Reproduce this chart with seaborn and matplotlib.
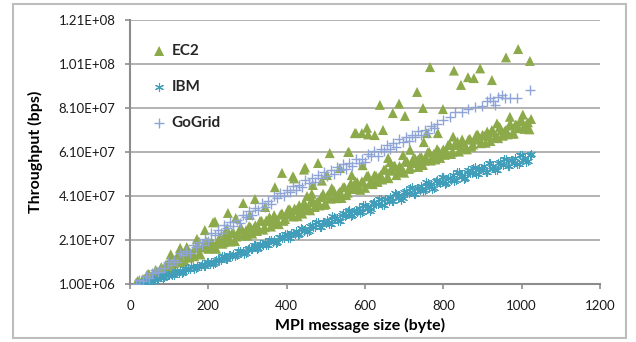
import numpy as np
import pandas as pd
import matplotlib
matplotlib.use("Agg")
import matplotlib.pyplot as plt
from matplotlib.patches import Rectangle
from matplotlib.ticker import FuncFormatter
import seaborn as sns

# ---------------- data (throughput in units of 1e6 bps) ----------------
ibm_x = list(range(24, 1025, 8))
ibm_y = [1.2, 1.4, 2.3, 2.5, 2.4, 3.7, 3.5, 4.6, 4.0, 5.0,
         5.7, 5.3, 6.9, 6.8, 6.3, 7.9, 7.6, 8.9, 8.1, 9.3,
         9.9, 9.3, 11.0, 10.9, 10.4, 12.5, 12.0, 13.6, 12.5, 14.1,
         14.8, 14.0, 15.8, 15.9, 15.1, 17.2, 16.9, 18.6, 17.3, 19.0,
         19.9, 18.7, 21.0, 20.9, 19.9, 22.3, 21.9, 23.9, 22.0, 24.1,
         25.0, 23.6, 26.2, 25.9, 25.0, 27.8, 27.1, 29.2, 27.1, 29.3,
         30.2, 28.5, 31.5, 31.2, 29.8, 33.1, 32.2, 34.6, 32.3, 34.5,
         35.4, 33.6, 36.9, 36.2, 35.0, 38.3, 37.3, 39.8, 37.0, 39.6,
         40.7, 38.9, 42.1, 41.4, 40.0, 43.4, 42.3, 44.9, 42.1, 44.7,
         45.7, 43.7, 47.1, 46.3, 44.8, 48.3, 47.1, 49.8, 46.8, 49.2,
         50.4, 48.1, 51.8, 50.7, 49.0, 52.6, 51.3, 54.0, 50.8, 53.5,
         54.7, 52.0, 55.8, 54.8, 53.0, 56.5, 55.1, 57.9, 54.6, 57.2,
         58.3, 55.6, 59.5, 58.3, 56.8, 60.2]
ibm_x2 = list(range(28, 1021, 8))
ibm_y2 = [1.1, 2.3, 2.1, 1.9, 3.4, 3.5, 4.5, 3.8, 5.0, 4.9,
          5.1, 6.8, 6.2, 5.9, 7.7, 7.6, 9.0, 7.8, 9.3, 9.0,
          9.0, 11.1, 10.3, 10.0, 12.1, 12.0, 13.6, 12.2, 14.0, 13.6,
          13.7, 16.1, 15.3, 14.8, 17.1, 17.0, 18.8, 17.1, 19.0, 18.6,
          18.6, 21.2, 20.3, 19.7, 22.2, 22.0, 23.9, 22.0, 24.0, 23.6,
          23.5, 26.4, 25.2, 24.6, 27.4, 27.1, 29.2, 27.0, 29.2, 28.6,
          28.5, 31.7, 30.4, 29.5, 32.4, 32.1, 34.3, 31.9, 34.3, 33.7,
          33.4, 36.9, 35.4, 34.3, 37.8, 37.3, 39.7, 36.8, 39.6, 38.8,
          38.6, 42.2, 40.6, 39.4, 42.9, 42.4, 44.8, 41.8, 44.7, 43.8,
          43.4, 47.2, 45.4, 44.2, 47.8, 47.2, 49.7, 46.6, 49.4, 48.4,
          47.9, 51.7, 49.9, 48.6, 52.1, 51.5, 53.9, 50.8, 53.6, 52.6,
          52.0, 55.8, 53.9, 52.6, 56.0, 55.4, 57.8, 54.5, 57.3, 56.2,
          55.6, 59.5, 57.5, 56.3, 59.6]

ec2_x = list(range(16, 1025, 8))
ec2_y = [1.7, 1.5, 3.1, 2.6, 5.6, 4.6, 6.8, 5.7, 8.7, 8.1,
         8.1, 11.4, 10.4, 13.3, 10.8, 13.6, 15.6, 13.0, 15.3, 17.4,
         14.7, 17.6, 19.5, 17.0, 20.1, 17.4, 20.0, 22.5, 20.0, 22.5,
         20.3, 24.4, 22.6, 26.0, 23.0, 25.4, 27.3, 23.9, 27.7, 26.4,
         29.7, 26.8, 29.6, 27.1, 32.3, 30.0, 32.5, 29.7, 32.6, 34.9,
         31.7, 34.7, 36.8, 33.0, 36.8, 35.5, 39.4, 36.0, 38.5, 40.5,
         37.0, 41.2, 39.8, 43.5, 40.0, 43.0, 45.0, 41.4, 45.1, 44.2,
         47.6, 44.6, 47.7, 44.7, 50.3, 47.6, 50.4, 47.4, 50.5, 52.9,
         49.2, 52.5, 54.5, 50.5, 54.6, 52.8, 57.1, 53.3, 56.0, 58.0,
         54.2, 58.7, 57.1, 60.8, 57.1, 60.2, 62.3, 58.3, 62.2, 61.2,
         64.5, 61.1, 64.4, 61.2, 66.7, 64.0, 66.6, 63.4, 66.6, 68.9,
         65.0, 68.4, 70.3, 66.0, 70.1, 68.1, 72.4, 68.4, 71.1, 73.0,
         69.3, 73.4, 71.8, 75.3, 71.5, 74.5, 76.0]
ec2_x2 = list(range(20, 1021, 8))
ec2_y2 = [2.5, 1.3, 3.4, 5.3, 4.3, 4.5, 6.9, 7.2, 7.1, 9.9,
          11.3, 8.0, 11.5, 14.5, 11.6, 11.3, 15.1, 14.8, 13.6, 18.2,
          14.4, 18.6, 20.2, 17.4, 19.2, 17.0, 21.9, 19.3, 23.7, 22.2,
          24.0, 20.5, 23.7, 26.5, 23.4, 23.0, 26.8, 26.3, 25.1, 29.7,
          25.7, 29.9, 31.4, 28.6, 30.4, 28.2, 33.1, 30.5, 34.9, 33.4,
          35.3, 31.8, 35.1, 37.9, 34.8, 34.5, 38.3, 37.9, 36.7, 41.3,
          37.4, 41.6, 43.2, 40.4, 42.2, 40.1, 45.0, 42.5, 46.9, 45.4,
          47.3, 43.8, 47.1, 49.9, 46.8, 46.4, 50.2, 49.7, 48.5, 53.1,
          49.1, 53.3, 54.8, 52.0, 53.8, 51.6, 56.5, 53.9, 58.3, 56.8,
          58.6, 55.1, 58.3, 61.1, 58.0, 57.6, 61.4, 60.9, 59.7, 64.2,
          60.1, 64.2, 65.7, 62.8, 64.5, 62.2, 67.0, 64.4, 68.7, 67.1,
          68.8, 65.2, 68.3, 71.0, 67.7, 67.3, 70.9, 70.4, 69.0, 73.4,
          69.4, 73.4, 74.9, 71.9, 73.6, 71.3]
ec2_x3 = [104, 128, 145, 171, 191, 212, 217, 242, 247, 250,
          270, 289, 306, 319, 345, 370, 388, 416, 419, 444,
          447, 452, 464, 467, 480, 490, 493, 503, 510, 515,
          536, 557, 559, 566, 574, 577, 592, 594, 605, 608,
          625, 631, 638, 646, 659, 664, 671, 687, 697, 702,
          715, 733, 735, 748, 750, 758, 766, 786, 799, 825,
          827, 845, 863, 878, 894, 924, 937, 960, 970, 991,
          1003, 1021]
ec2_y3 = [14.5, 17.4, 17.8, 21.5, 25.5, 29.0, 29.4, 22.0, 26.0, 33.3,
          31.0, 37.8, 32.4, 39.6, 36.0, 45.0, 51.5, 50.0, 49.0, 53.0,
          54.0, 41.0, 42.0, 46.0, 56.0, 48.0, 42.0, 50.5, 60.5, 44.6,
          53.7, 61.0, 61.0, 50.5, 69.6, 69.6, 69.6, 55.0, 72.0, 69.0,
          68.7, 48.0, 82.4, 71.0, 58.3, 56.4, 78.7, 83.0, 59.6, 77.4,
          62.0, 88.3, 57.4, 81.0, 65.5, 69.6, 99.6, 69.6, 80.5, 68.0,
          98.0, 91.5, 95.0, 94.6, 99.0, 93.7, 74.0, 104.0, 77.0, 107.8,
          78.0, 102.4]

gog_x = list(range(16, 785, 8)) + [799, 816, 830, 847, 864, 881, 898, 911, 919,
                                   927, 932, 940, 949, 957, 970, 988, 1021]
gog_y = [1.0, 2.8, 2.3, 4.8, 3.7, 5.9, 7.5, 6.3, 8.5, 8.4,
         10.8, 9.5, 11.8, 11.0, 14.9, 14.0, 16.2, 15.0, 18.6, 17.6,
         20.1, 18.8, 21.6, 20.5, 24.2, 23.3, 25.6, 24.3, 27.7, 26.3,
         29.2, 27.5, 30.1, 28.8, 32.4, 31.6, 34.3, 32.5, 35.4, 34.5,
         37.8, 36.1, 38.7, 37.3, 40.9, 39.9, 42.5, 40.8, 43.9, 42.8,
         45.7, 43.6, 46.2, 45.0, 48.3, 47.1, 49.1, 47.3, 50.6, 49.3,
         51.9, 49.9, 52.6, 51.1, 54.4, 53.0, 55.4, 53.4, 55.9, 54.8,
         57.8, 55.8, 58.0, 56.4, 59.9, 59.1, 61.4, 59.4, 62.4, 61.3,
         64.1, 62.2, 65.0, 63.4, 67.0, 65.6, 67.9, 65.9, 68.8, 67.7,
         70.6, 68.8, 71.1, 69.7, 72.8, 71.8, 73.8,
         75.5, 77.0, 79.0, 79.0, 80.5, 81.5, 82.0, 84.0, 85.5,
         84.0, 82.5, 86.0, 87.0, 85.5, 85.5, 85.5, 89.0]

y_ticks = [1.00e6, 2.10e7, 4.10e7, 6.10e7, 8.10e7, 1.01e8, 1.21e8]
x_ticks = [0, 200, 400, 600, 800, 1000, 1200]

SCALE = 1e6
ec2 = pd.DataFrame({"x": ec2_x + ec2_x2 + ec2_x3,
                    "y": np.array(ec2_y + ec2_y2 + ec2_y3) * SCALE})
ibm = pd.DataFrame({"x": ibm_x + ibm_x2,
                    "y": np.array(ibm_y + ibm_y2) * SCALE})
gog = pd.DataFrame({"x": gog_x, "y": np.array(gog_y) * SCALE})

# ---------------- style ----------------
sns.set_theme(style="white")
plt.rcParams["font.family"] = ["Lato", "DejaVu Sans"]

C_EC2 = "#8DAA4B"
C_IBM = "#409EBB"
C_GOG = "#8FA4D6"

fig = plt.figure(figsize=(6.36, 3.42), dpi=100)
ax = fig.add_axes([130 / 636, 1 - 284 / 342, 470 / 636, 264 / 342])

sns.scatterplot(data=ec2, x="x", y="y", ax=ax, marker="^", s=52,
                color=C_EC2, edgecolor="none", linewidth=0, label="EC2", zorder=3)
sns.scatterplot(data=ibm, x="x", y="y", ax=ax, marker=(6, 2, 0), s=34,
                color=C_IBM, linewidth=0.8, label="IBM", zorder=4)
sns.scatterplot(data=gog, x="x", y="y", ax=ax, marker="+", s=45,
                color=C_GOG, linewidth=1.0, label="GoGrid", zorder=5)

ax.set_xlim(0, 1200)
ax.set_ylim(1.0e6, 1.21e8)
ax.set_xticks(x_ticks)
ax.set_yticks(y_ticks)
ax.yaxis.set_major_formatter(FuncFormatter(lambda v, p: f"{v:.2E}"))
ax.xaxis.set_major_formatter(FuncFormatter(lambda v, p: f"{int(v)}"))

ax.grid(axis="y", color="#a6a6a6", linewidth=1.2)
ax.grid(axis="x", visible=False)
ax.set_axisbelow(True)
for s in ["top", "right"]:
    ax.spines[s].set_visible(False)
for s in ["left", "bottom"]:
    ax.spines[s].set_color("#8c8c8c")
    ax.spines[s].set_linewidth(1.5)

ax.tick_params(axis="both", which="major", direction="out", length=3.5,
               width=1.2, color="#8c8c8c", labelsize=9.5, labelcolor="#1a1a1a")
ax.tick_params(axis="y", pad=7)
ax.tick_params(axis="x", pad=8)
ax.tick_params(left=True, bottom=True)

ax.set_xlabel("MPI message size (byte)", fontsize=11.5, fontweight="bold",
              color="black")
ax.set_ylabel("Throughput (bps)", fontsize=11.5, fontweight="bold",
              color="black")
ax.xaxis.set_label_coords(0.489, -0.128)
ax.yaxis.set_label_coords(-0.186, 0.5)

leg = ax.legend(loc="upper left", bbox_to_anchor=(153 / 636, 1 - 44 / 342),
                bbox_transform=fig.transFigure, frameon=False, fontsize=11,
                handlelength=0.8, handletextpad=0.4, labelspacing=1.45,
                borderpad=0, borderaxespad=0)
for t in leg.get_texts():
    t.set_fontweight("bold")

fig.patches.append(Rectangle((13 / 636, 4 / 342), (626 - 13) / 636,
                             (338 - 4) / 342, transform=fig.transFigure,
                             fill=False, edgecolor="#bdbdbd", linewidth=1.5))

fig.savefig("out.png", dpi=100)
